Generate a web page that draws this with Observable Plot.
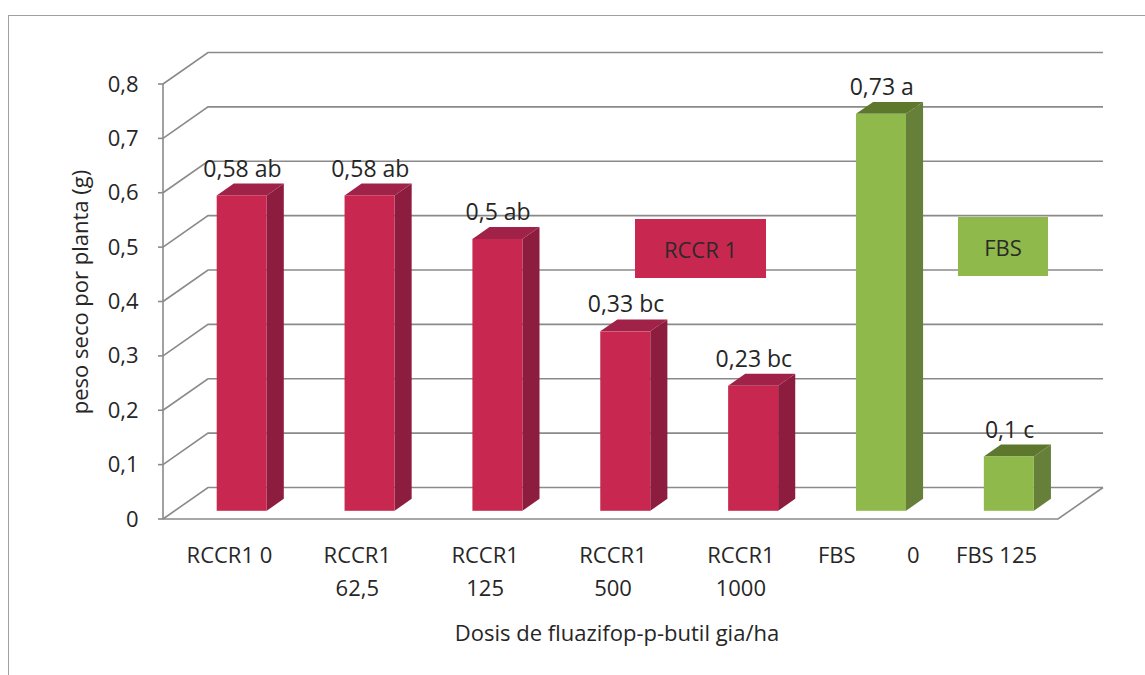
<!DOCTYPE html>
<html>
<head>
<meta charset="utf-8">
<script src="https://cdn.jsdelivr.net/npm/d3@7"></script>
<script src="https://cdn.jsdelivr.net/npm/@observablehq/plot@0.6"></script>
<style>
  body { margin: 0; background: #fff; font-family: "Open Sans", sans-serif; }
  #wrap { position: relative; width: 1145px; height: 675px; overflow: hidden; background: #fff; }
  #frame { position: absolute; left: 8px; top: 15px; width: 1200px; height: 720px;
           border-left: 1.5px solid #a0a0a0; border-top: 1.5px solid #a0a0a0; }
  #chart { position: absolute; left: 0; top: 0; }
  .key { position: absolute; display: flex; align-items: center; justify-content: center;
         font-size: 22px; color: #2a2a2a; }
</style>
</head>
<body>
<div id="wrap">
  <div id="frame"></div>
  <div id="chart"></div>
  <div class="key" id="key0" style="left:635px;top:219px;width:131px;height:59px;"></div>
  <div class="key" id="key1" style="left:958px;top:217px;width:90px;height:59px;"></div>
</div>
<script>
// Dry weight per plant by fluazifop-p-butyl dose (g a.i./ha)
const categories = ["RCCR1 0", "RCCR1 62,5", "RCCR1 125", "RCCR1 500", "RCCR1 1000", "FBS 0", "FBS 125"];
const tickLabels = ["RCCR1 0", "RCCR1\n62,5", "RCCR1\n125", "RCCR1\n500", "RCCR1\n1000",
                    "FBS\u00a0\u00a0\u00a0\u00a0\u00a0\u00a0\u00a0\u00a0\u00a00", "FBS 125"];
const values = [0.58, 0.58, 0.5, 0.33, 0.23, 0.73, 0.1];
const letters = ["ab", "ab", "ab", "bc", "bc", "a", "c"];
const groups = ["RCCR 1", "RCCR 1", "RCCR 1", "RCCR 1", "RCCR 1", "FBS", "FBS"];
const groupNames = ["RCCR 1", "FBS"];
const yTicks = [0, 0.1, 0.2, 0.3, 0.4, 0.5, 0.6, 0.7, 0.8];

// face colours per group: front, side, top
const frontColors = ["#c8284f", "#8fb94b"];
const sideColors = ["#8c1d3f", "#66803a"];
const topColors = ["#a12248", "#5d782c"];
const gridColor = "#8a8a8a";
const textColor = "#262626";

const rows = categories.map((cat, i) => ({
  cat, value: values[i], letter: letters[i], group: groups[i], tick: tickLabels[i]
}));

const comma = (v) => String(v).replace(".", ",");

// pseudo-3D layout
const W = 1145, H = 675;
const ML = 163, MR = 87, MT = 84, MB = 156;
const DEPTH = [45, -31.5];           // floor depth vector, px
const BAR_FRONT = 0.26, BAR_DEPTH = 0.38; // bar slab position within the depth
const BAR_INSET = 42, BAR_W = 50;
const step = (W - ML - MR) / categories.length;

// back wall gridlines, side wall diagonals, floor edges and value axis
function walls(index, {x, y}) {
  const [dx, dy] = DEPTH;
  const x0 = ML, x1 = W - MR;
  const g = d3.create("svg:g")
    .attr("fill", "none").attr("stroke", gridColor).attr("stroke-width", 1.6);
  for (const t of yTicks) {
    const py = y(t);
    g.append("path").attr("d", `M${x0},${py}L${x0 + dx},${py + dy}H${x1 + dx}`);
    g.append("path").attr("d", `M${x0 - 5},${py}H${x0}`);
  }
  g.append("path").attr("d", `M${x0},${y(0)}H${x1}L${x1 + dx},${y(0) + dy}`);
  g.append("path").attr("d", `M${x0},${y(yTicks[yTicks.length - 1])}V${y(0)}`);
  return g.node();
}

// side and top faces of each bar
function barFaces(index, {x, y}) {
  const [DX, DY] = DEPTH;
  const ox = BAR_FRONT * DX, oy = BAR_FRONT * DY;
  const bx = BAR_DEPTH * DX, by = BAR_DEPTH * DY;
  const g = d3.create("svg:g");
  for (const r of rows) {
    const k = groupNames.indexOf(r.group);
    const left = x(r.cat) + BAR_INSET + ox, right = left + BAR_W;
    const top = y(r.value) + oy, bottom = y(0) + oy;
    g.append("path")
      .attr("d", `M${right},${bottom}L${right + bx},${bottom + by}V${top + by}L${right},${top}Z`)
      .attr("fill", sideColors[k]);
    g.append("path")
      .attr("d", `M${left},${top}L${left + bx},${top + by}H${right + bx}L${right},${top}Z`)
      .attr("fill", topColors[k]);
  }
  return g.node();
}

const chart = Plot.plot({
  width: W, height: H,
  marginLeft: ML, marginRight: MR, marginTop: MT, marginBottom: MB,
  style: {fontFamily: "'Open Sans', sans-serif", fontSize: "22px", color: textColor, background: "transparent", overflow: "visible"},
  x: {type: "band", domain: categories, padding: 0, round: false, axis: null},
  y: {domain: [0, 0.8]},
  color: {domain: groupNames, range: frontColors},
  marks: [
    walls,
    Plot.axisY({ticks: yTicks, tickFormat: comma, tickSize: 0, tickPadding: 25, fontSize: 22, label: null, fill: textColor}),
    barFaces,
    Plot.barY(rows, {
      x: "cat", y: "value", fill: "group",
      insetLeft: BAR_INSET, insetRight: step - BAR_INSET - BAR_W,
      dx: BAR_FRONT * DEPTH[0], dy: BAR_FRONT * DEPTH[1]
    }),
    Plot.text(rows, {
      x: "cat", y: "value", text: (d) => `${comma(d.value)} ${d.letter}`,
      dx: 15, dy: -35, fontSize: 23, fill: textColor
    }),
    Plot.text(rows, {
      x: "cat", text: "tick", frameAnchor: "bottom", lineAnchor: "top",
      lineHeight: 1.5, dx: 2, dy: 20, fontSize: 22, fill: textColor
    }),
    Plot.text(["peso seco por planta (g)"], {
      text: (d) => d, frameAnchor: "left", textAnchor: "middle", rotate: -90,
      dx: -83, dy: -10, fontSize: 22, fill: textColor
    }),
    Plot.text(["Dosis de fluazifop-p-butil gia/ha"], {
      text: (d) => d, frameAnchor: "bottom", dx: 6, dy: 121, fontSize: 22, fill: textColor
    })
  ]
});
document.getElementById("chart").append(chart);

// group key boxes
groupNames.forEach((name, k) => {
  const el = document.getElementById("key" + k);
  el.textContent = name;
  el.style.background = frontColors[k];
});
</script>
</body>
</html>
